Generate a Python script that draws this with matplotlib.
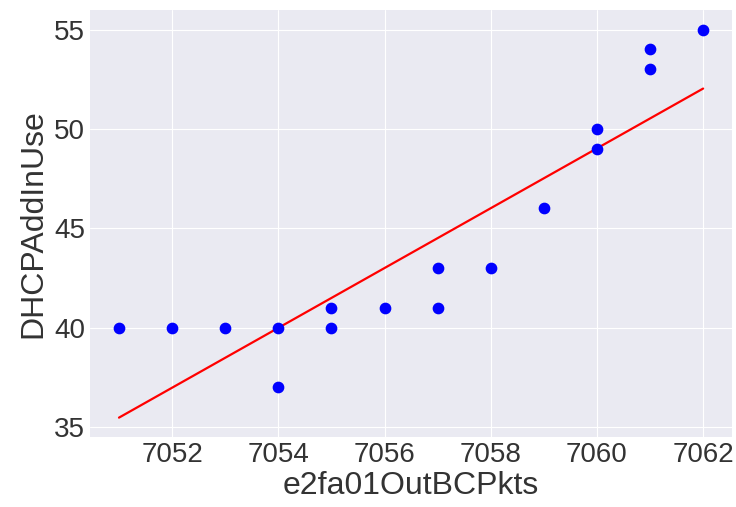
import numpy as np
import matplotlib
matplotlib.use("Agg")
import matplotlib.pyplot as plt

# e2fa01OutBCPkts vs DHCPAddInUse
x_vals = [7051, 7052, 7053, 7054, 7054, 7055, 7055, 7056, 7057, 7057,
          7058, 7059, 7060, 7060, 7061, 7061, 7062]
y_vals = [40, 40, 40, 40, 37, 41, 40, 41, 43, 41,
          43, 46, 50, 49, 54, 53, 55]
# fitted line
fit_x = [7051, 7062]
fit_y = [35.47, 52.03]

plt.style.use("seaborn-v0_8-darkgrid")
plt.rcParams['font.family'] = ['Liberation Sans', 'DejaVu Sans']

fig, ax = plt.subplots(figsize=(7.36, 5.07), dpi=100)
ax.scatter(x_vals, y_vals, color="blue", s=55, zorder=3)
ax.plot(fit_x, fit_y, color="red", linewidth=1.6)
ax.set_xlabel("e2fa01OutBCPkts", fontsize=23, color="#333333", labelpad=2)
ax.set_ylabel("DHCPAddInUse", fontsize=23, color="#333333", labelpad=4)
ax.tick_params(labelsize=20, labelcolor="#333333")
ax.set_xticks([7052, 7054, 7056, 7058, 7060, 7062])
ax.set_yticks([35, 40, 45, 50, 55])
fig.subplots_adjust(left=0.122, right=0.995, top=0.98, bottom=0.138)
fig.savefig("out.png", dpi=100)
